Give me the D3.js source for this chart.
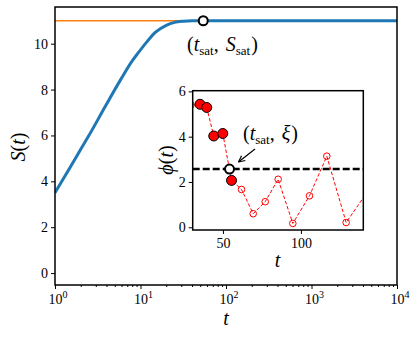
<!DOCTYPE html>
<html>
<head>
<meta charset="utf-8">
<script src="https://cdn.jsdelivr.net/npm/d3@7"></script>
<style>
  body { margin: 0; background: #fff; }
  svg text { font-family: "Liberation Serif", "DejaVu Serif", serif; fill: #000; }
</style>
</head>
<body>
<div id="chart"></div>
<script>
// main curve S(t)
var mainT = [1, 1.5, 2, 2.45, 3.85, 6, 8, 9.4, 12, 15, 20, 25, 32, 40, 54, 100, 1000, 10000];
var mainS = [3.5, 4.6, 5.4, 5.95, 7.25, 8.5, 9.25, 9.6, 10.1, 10.5, 10.8, 10.93, 10.98, 11.0, 11.0, 11.0, 11.0, 11.0];
var Ssat = 11.0, tSat = 54.2;
var mainYTicks = [0, 2, 4, 6, 8, 10];
var mainXTicks = [1, 10, 100, 1000, 10000];

// inset phi(t)
var phiT = [29.5, 35.3, 39.6, 44.1, 49.9, 55.5, 61.9, 69.4, 77.1, 85.4, 94.8, 105.5, 116.6, 129, 143];
var phiV = [5.4, 5.43, 5.29, 4.03, 4.14, 2.07, 1.67, 0.6, 1.13, 2.12, 0.17, 1.39, 3.14, 0.21, 1.6];
var phiFilled = [false, true, true, true, true, true, false, false, false, false, false, false, false, false, false];
var xi = 2.57;
var insetYTicks = [0, 2, 4, 6];
var insetXTicks = [50, 100];

var W = 415, H = 337;
var svg = d3.select("#chart").append("svg")
  .attr("width", W).attr("height", H);

// ---- main axes
var m = {left: 55, right: 397, top: 7, bottom: 285};
var x = d3.scaleLog().domain([1, 10000]).range([m.left, m.right]);
var y = d3.scaleLinear().domain([-0.52, 11.6]).range([m.bottom, m.top]);

svg.append("clipPath").attr("id", "mclip").append("rect")
  .attr("x", m.left).attr("y", m.top)
  .attr("width", m.right - m.left).attr("height", m.bottom - m.top);

var plot = svg.append("g").attr("clip-path", "url(#mclip)");

plot.append("line")
  .attr("x1", x(1)).attr("x2", x(10000))
  .attr("y1", y(Ssat)).attr("y2", y(Ssat))
  .attr("stroke", "#ff7f0e").attr("stroke-width", 1.5);

var line = d3.line()
  .x(function(d, i) { return x(mainT[i]); })
  .y(function(d) { return y(d); })
  .curve(d3.curveMonotoneX);

plot.append("path")
  .attr("d", line(mainS))
  .attr("fill", "none")
  .attr("stroke", "#1f77b4")
  .attr("stroke-width", 3);

svg.append("circle")
  .attr("cx", x(tSat)).attr("cy", y(Ssat)).attr("r", 4.5)
  .attr("fill", "#fff").attr("stroke", "#000").attr("stroke-width", 2);

// axes
var gx = svg.append("g").attr("transform", "translate(0," + m.bottom + ")")
  .call(d3.axisBottom(x).tickValues(mainXTicks).tickSize(4).tickFormat(""));
var minor = [];
for (var e = 0; e < 4; e++) for (var k = 2; k < 10; k++) minor.push(k * Math.pow(10, e));
svg.append("g").attr("transform", "translate(0," + m.bottom + ")")
  .call(d3.axisBottom(x).tickValues(minor).tickSize(2).tickFormat(""))
  .select(".domain").remove();

mainXTicks.forEach(function(t) {
  var lab = svg.append("text")
    .attr("x", x(t) + 3).attr("y", 304)
    .attr("text-anchor", "middle")
    .style("font-size", "14px");
  lab.append("tspan").text("10");
  lab.append("tspan").attr("dy", -6).style("font-size", "10px").text(Math.round(Math.log10(t)));
});

var gy = svg.append("g").attr("transform", "translate(" + m.left + ",0)")
  .call(d3.axisLeft(y).tickValues(mainYTicks).tickSize(4).tickPadding(3));
gy.selectAll("text").style("font-size", "14px");
[gx, gy].forEach(function(g) { g.select(".domain").remove(); });

svg.append("rect")
  .attr("x", m.left).attr("y", m.top)
  .attr("width", m.right - m.left).attr("height", m.bottom - m.top)
  .attr("fill", "none").attr("stroke", "#000").attr("stroke-width", 1.5);

svg.append("text")
  .attr("x", x(100)).attr("y", 325)
  .attr("text-anchor", "middle")
  .style("font-size", "20px").style("font-style", "italic")
  .text("t");

var ylab = svg.append("text")
  .attr("transform", "translate(25," + 147 + ") rotate(-90)")
  .attr("text-anchor", "middle")
  .style("font-size", "20px");
ylab.append("tspan").style("font-style", "italic").text("S");
ylab.append("tspan").text("(");
ylab.append("tspan").style("font-style", "italic").text("t");
ylab.append("tspan").text(")");

function satLabel(sel, second, subSecond) {
  sel.append("tspan").text("(");
  sel.append("tspan").style("font-style", "italic").text("t");
  sel.append("tspan").attr("dy", 4).style("font-size", "13px").text("sat");
  sel.append("tspan").attr("dy", -4).text(", ");
  sel.append("tspan").attr("dx", 2).style("font-style", "italic").text(second);
  if (subSecond) {
    sel.append("tspan").attr("dy", 4).style("font-size", "13px").text("sat");
    sel.append("tspan").attr("dy", -4).attr("dx", 1).text(")");
  } else {
    sel.append("tspan").attr("dx", 1).text(")");
  }
}

satLabel(svg.append("text").attr("x", 187).attr("y", 51).style("font-size", "20px"), "S", true);

// ---- inset
var n = {left: 192.7, right: 363.3, top: 90.7, bottom: 230};
var xin = d3.scaleLinear().domain([30.6, 140]).range([n.left, n.right]);
var yin = d3.scaleLinear().domain([-0.12, 6.03]).range([n.bottom, n.top]);

svg.append("rect")
  .attr("x", n.left).attr("y", n.top)
  .attr("width", n.right - n.left).attr("height", n.bottom - n.top)
  .attr("fill", "#fff");

svg.append("clipPath").attr("id", "iclip").append("rect")
  .attr("x", n.left).attr("y", n.top)
  .attr("width", n.right - n.left).attr("height", n.bottom - n.top);
var inset = svg.append("g").attr("clip-path", "url(#iclip)");

inset.append("line")
  .attr("x1", n.left).attr("x2", n.right)
  .attr("y1", yin(xi)).attr("y2", yin(xi))
  .attr("stroke", "#000").attr("stroke-width", 2.5)
  .attr("stroke-dasharray", "7,3");

var pline = d3.line()
  .x(function(d, i) { return xin(phiT[i]); })
  .y(function(d) { return yin(d); });

inset.append("path")
  .attr("d", pline(phiV))
  .attr("fill", "none")
  .attr("stroke", "#ff0000")
  .attr("stroke-width", 1)
  .attr("stroke-dasharray", "3.5,2");

var idx = d3.range(phiV.length);
inset.selectAll(".open").data(idx.filter(function(i) { return !phiFilled[i]; }))
  .enter().append("circle")
  .attr("cx", function(i) { return xin(phiT[i]); })
  .attr("cy", function(i) { return yin(phiV[i]); })
  .attr("r", 3.3)
  .attr("fill", "none").attr("stroke", "#ff0000").attr("stroke-width", 1);

inset.selectAll(".filled").data(idx.filter(function(i) { return phiFilled[i]; }))
  .enter().append("circle")
  .attr("cx", function(i) { return xin(phiT[i]); })
  .attr("cy", function(i) { return yin(phiV[i]); })
  .attr("r", 5)
  .attr("fill", "#ff0000").attr("stroke", "#000").attr("stroke-width", 1);

inset.append("circle")
  .attr("cx", xin(tSat)).attr("cy", yin(xi)).attr("r", 4.5)
  .attr("fill", "#fff").attr("stroke", "#000").attr("stroke-width", 2);

var gxi = svg.append("g").attr("transform", "translate(0," + n.bottom + ")")
  .call(d3.axisBottom(xin).tickValues(insetXTicks).tickSize(4).tickPadding(4).tickFormat(d3.format("d")));
var gyi = svg.append("g").attr("transform", "translate(" + n.left + ",0)")
  .call(d3.axisLeft(yin).tickValues(insetYTicks).tickSize(4).tickPadding(3).tickFormat(d3.format("d")));
[gxi, gyi].forEach(function(g) {
  g.select(".domain").remove();
  g.selectAll("text").style("font-size", "14px");
});

svg.append("rect")
  .attr("x", n.left).attr("y", n.top)
  .attr("width", n.right - n.left).attr("height", n.bottom - n.top)
  .attr("fill", "none").attr("stroke", "#000").attr("stroke-width", 1.5);

svg.append("text")
  .attr("x", xin(85)).attr("y", 267)
  .attr("text-anchor", "middle")
  .style("font-size", "20px").style("font-style", "italic")
  .text("t");

var yil = svg.append("text")
  .attr("transform", "translate(173,160) rotate(-90)")
  .attr("text-anchor", "middle")
  .style("font-size", "20px");
yil.append("tspan").style("font-style", "italic").text("ϕ");
yil.append("tspan").text("(");
yil.append("tspan").style("font-style", "italic").text("t");
yil.append("tspan").text(")");

satLabel(svg.append("text").attr("x", 243).attr("y", 140).style("font-size", "20px"), "ξ", false);

// arrow
var ax0 = 255, ay0 = 149, ax1 = 238.5, ay1 = 162;
svg.append("line")
  .attr("x1", ax0).attr("y1", ay0).attr("x2", ax1).attr("y2", ay1)
  .attr("stroke", "#000").attr("stroke-width", 1.2);
var ang = Math.atan2(ay1 - ay0, ax1 - ax0);
[0.45, -0.45].forEach(function(da) {
  svg.append("line")
    .attr("x1", ax1).attr("y1", ay1)
    .attr("x2", ax1 - 7 * Math.cos(ang + da))
    .attr("y2", ay1 - 7 * Math.sin(ang + da))
    .attr("stroke", "#000").attr("stroke-width", 1.2);
});
</script>
</body>
</html>
